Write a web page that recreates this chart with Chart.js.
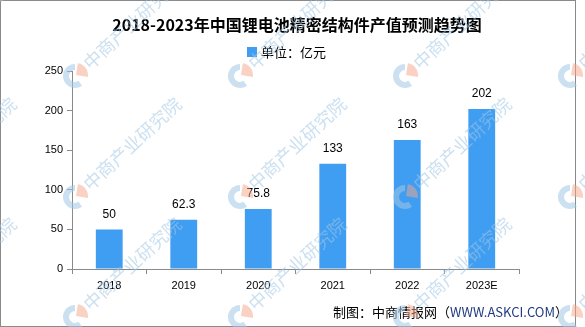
<!DOCTYPE html>
<html>
<head>
<meta charset="utf-8">
<script src="https://cdn.jsdelivr.net/npm/chart.js@4.4.1/dist/chart.umd.min.js"></script>
<style>
  html, body { margin: 0; padding: 0; background: #fff; }
  canvas { display: block; }
</style>
</head>
<body>
<canvas id="chart" width="585" height="327"></canvas>
<script>
// 产值数据（亿元）
var years = ['2018', '2019', '2020', '2021', '2022', '2023E'];
var outputValue = [50, 62.3, 75.8, 133, 163, 202];
var seriesLabel = '单位：亿元';
var chartTitle = '2018-2023年中国锂电池精密结构件产值预测趋势图';

var barColor = '#409EF2';
var axisColor = '#8a8a8a';
var cjkFont = '"Noto Sans CJK SC", "Noto Sans", sans-serif';
var numFont = '"Liberation Sans", Arial, sans-serif';

// title, legend, value labels, footer, frame and watermark
var decorPlugin = {
  id: 'decor',
  afterDatasetsDraw: function (chart) {
    var ctx = chart.ctx;
    var ds = chart.data.datasets[0];
    var meta = chart.getDatasetMeta(0);

    ctx.save();
    // value labels above bars
    ctx.fillStyle = '#000';
    ctx.font = '12px ' + numFont;
    ctx.textAlign = 'center';
    ctx.textBaseline = 'middle';
    meta.data.forEach(function (bar, i) {
      ctx.fillText(String(ds.data[i]), bar.x, bar.y - 15);
    });

    // title
    ctx.font = 'bold 16px ' + cjkFont;
    ctx.fillText(chartTitle, 297, 25);

    // legend
    ctx.fillStyle = barColor;
    ctx.fillRect(247, 47, 10, 10);
    ctx.fillStyle = '#000';
    ctx.font = '13px ' + cjkFont;
    ctx.textAlign = 'left';
    ctx.fillText(ds.label, 261, 52);

    // footer
    ctx.font = '13px ' + cjkFont;
    ctx.textAlign = 'right';
    var tail = '）';
    var site = 'WWW.ASKCI.COM';
    var head = '制图：中商情报网（';
    var x = 568;
    ctx.fillStyle = '#000';
    ctx.fillText(tail, x, 312);
    x -= ctx.measureText(tail).width;
    ctx.fillStyle = '#1f3c80';
    ctx.fillText(site, x, 312);
    x -= ctx.measureText(site).width;
    ctx.fillStyle = '#000';
    ctx.fillText(head, x, 312);

    // frame
    ctx.strokeStyle = axisColor;
    ctx.lineWidth = 1;
    ctx.strokeRect(0.5, 0.5, 575, 326);
    ctx.restore();
  },
  afterDraw: function (chart) {
    var ctx = chart.ctx;
    var cols = [-90, 75, 240, 405, 570];
    var rows = [-44, 76, 197, 317];
    ctx.save();
    cols.forEach(function (cx) {
      rows.forEach(function (cy) {
        // logo ring with orange wedge
        ctx.lineWidth = 6;
        ctx.strokeStyle = 'rgba(160,198,228,0.55)';
        ctx.beginPath();
        ctx.arc(cx, cy, 9, 0.3 * Math.PI, 1.5 * Math.PI);
        ctx.stroke();
        ctx.fillStyle = 'rgba(245,165,135,0.5)';
        ctx.beginPath();
        ctx.moveTo(cx + 1, cy - 1);
        ctx.arc(cx + 1, cy - 1, 12, 1.55 * Math.PI, 2.05 * Math.PI);
        ctx.closePath();
        ctx.fill();
        // text
        ctx.save();
        ctx.translate(cx, cy);
        ctx.rotate(-Math.PI / 4.2);
        ctx.fillStyle = 'rgba(160,198,228,0.55)';
        ctx.font = '18px ' + cjkFont;
        ctx.textAlign = 'left';
        ctx.textBaseline = 'middle';
        ctx.fillText('中商产业研究院', 15, 0);
        ctx.restore();
      });
    });
    ctx.restore();
  }
};

new Chart(document.getElementById('chart'), {
  type: 'bar',
  data: {
    labels: years,
    datasets: [{
      label: seriesLabel,
      data: outputValue,
      backgroundColor: barColor,
      borderWidth: 0,
      categoryPercentage: 1,
      barPercentage: 0.36
    }]
  },
  options: {
    responsive: false,
    animation: false,
    layout: { padding: { top: 71, right: 66, bottom: 0, left: 0 } },
    plugins: {
      legend: { display: false },
      title: { display: false },
      tooltip: { enabled: false }
    },
    scales: {
      x: {
        afterFit: function (scale) { scale.height = 58; },
        border: { color: axisColor, width: 1 },
        grid: { drawOnChartArea: false, color: axisColor, tickLength: 5, offset: true },
        ticks: { color: '#000', font: { family: numFont, size: 11 }, padding: 5 }
      },
      y: {
        min: 0,
        max: 250,
        afterFit: function (scale) { scale.width = 72; },
        border: { color: axisColor, width: 1 },
        grid: { drawOnChartArea: false, color: axisColor, tickLength: 5 },
        ticks: { stepSize: 50, color: '#000', font: { family: numFont, size: 11 }, padding: 4 }
      }
    }
  },
  plugins: [decorPlugin]
});
</script>
</body>
</html>
